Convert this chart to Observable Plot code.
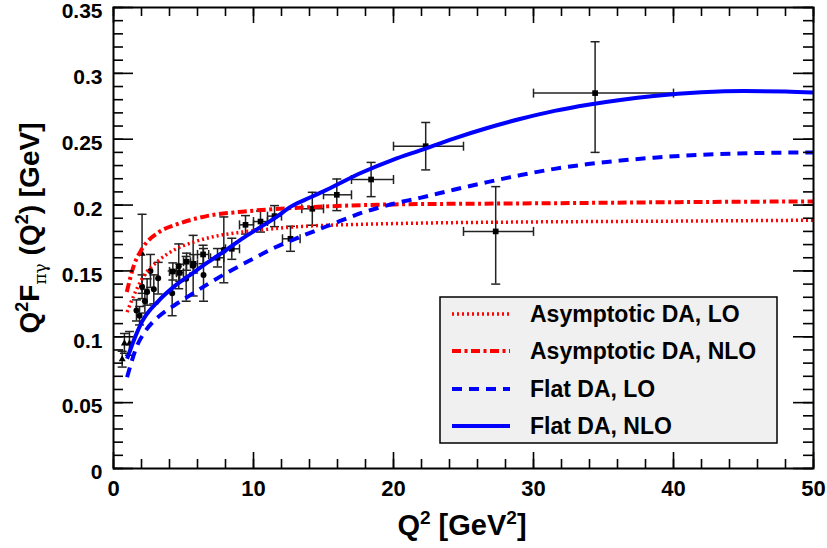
<!DOCTYPE html>
<html><head><meta charset="utf-8">
<script src="https://cdn.jsdelivr.net/npm/d3@7"></script>
<script src="https://cdn.jsdelivr.net/npm/@observablehq/plot@0.6"></script>
<style>body{margin:0;background:#fff;font-family:"Liberation Sans",Arial,sans-serif}</style>
</head><body><div id="chart"></div>
<script>
// ---- theory curves (Q^2 in GeV^2, Q^2 F in GeV) ----
const asyLOx  = [0.97,1.45,2.04,3.24,4.43,5.61,6.81,9.19,11.57,13.47,17,21.9,30,39.8,50];
const asyLOy  = [0.1187,0.1313,0.144,0.158,0.1665,0.1715,0.1752,0.1795,0.1822,0.1838,0.1852,0.1863,0.1872,0.1878,0.1885];
const asyNLOx = [0.95,1.45,2.04,3.24,4.43,5.61,6.81,9.19,11.57,13.24,20,30,40,50];
const asyNLOy = [0.134,0.1540,0.1668,0.1794,0.185,0.189,0.192,0.195,0.197,0.198,0.2005,0.2013,0.2022,0.2028];
const flatLOx = [0.97,1.69,2.29,3.24,4.43,5.61,6.81,8.0,9.66,11.57,13.47,15.5,17.7,20,21.9,24.3,26.7,29.1,31.5,33.9,36.2,38.6,42,46,50];
const flatLOy = [0.0693,0.0934,0.1045,0.1155,0.1245,0.1325,0.1405,0.148,0.1575,0.168,0.1765,0.185,0.194,0.201,0.2055,0.2116,0.2174,0.2228,0.2275,0.2311,0.2338,0.236,0.2382,0.2395,0.24];
const flatNLOx = [0.97,1.57,2.04,3.24,4.43,5.61,6.81,8.0,9.19,10.38,11.57,12.7,14.2,15.5,17.7,20,21.9,24.3,26.7,29.1,31.5,33.9,36.2,38.6,42,45,48,50];
const flatNLOy = [0.0833,0.1005,0.1115,0.1275,0.139,0.148,0.157,0.1655,0.1745,0.1825,0.1905,0.199,0.2065,0.213,0.2245,0.2345,0.2415,0.2505,0.2585,0.2655,0.2715,0.2762,0.2798,0.2828,0.2856,0.2866,0.2863,0.2855];

// ---- data: CELLO (triangles) ----
const celloX   = [0.62,0.78,1.14,2.04];
const celloY   = [0.083,0.095,0.095,0.163];
const celloErr = [0.006,0.0075,0.009,0.03];
// ---- data: CLEO (circles) ----
const cleoX   = [1.64,1.86,2.04,2.24,2.40,2.64,2.88,3.19,4.19,4.66,5.19,5.69,6.43,7.88];
const cleoY   = [0.120,0.116,0.138,0.127,0.134,0.150,0.136,0.1445,0.133,0.1535,0.144,0.154,0.147,0.166];
const cleoErr = [0.008,0.007,0.009,0.009,0.010,0.0125,0.011,0.012,0.017,0.017,0.017,0.023,0.02,0.025];
// ---- data: BaBar (squares) ----
const babarX    = [4.24,4.73,5.22,5.72,6.4,7.43,8.45,9.43,10.5,11.5,12.64,14.2,15.95,18.4,22.3,27.3,34.4];
const babarY    = [0.1496,0.1486,0.157,0.1554,0.1625,0.160,0.1668,0.185,0.1875,0.1916,0.1744,0.1972,0.2078,0.2194,0.2447,0.180,0.285];
const babarErrLo= [0.0065,0.0065,0.0065,0.007,0.007,0.007,0.008,0.007,0.008,0.008,0.0095,0.0125,0.012,0.013,0.018,0.040,0.045];
const babarErrHi= [0.0065,0.0065,0.0065,0.007,0.007,0.007,0.008,0.007,0.008,0.008,0.0095,0.0125,0.012,0.013,0.018,0.034,0.039];
const babarXlo  = [4.0,4.5,5.0,5.5,6.0,6.93,8.0,9.0,10.0,11.0,12.07,13.45,15.0,17.0,20.0,25.0,30.0];
const babarXhi  = [4.5,5.0,5.5,6.0,6.8,7.88,9.0,10.0,11.0,12.0,13.33,15.0,17.0,20.0,25.0,30.0,40.0];

// ---- axes ----
const xTicks = [0,10,20,30,40,50];
const xTickLabels = ["0","10","20","30","40","50"];
const xMinor = d3.range(0, 50.01, 2);
const yTicks = [0,0.05,0.1,0.15,0.2,0.25,0.3,0.35];
const yTickLabels = ["0","0.05","0.1","0.15","0.2","0.25","0.3","0.35"];
const yMinor = d3.range(0, 0.3501, 0.01);

const legendLabels = ["Asymptotic DA, LO","Asymptotic DA, NLO","Flat DA, LO","Flat DA, NLO"];
const series = [
  {xs: asyLOx,  ys: asyLOy,  stroke: "#ff0000", dash: "2 3",        w: 3.5},
  {xs: asyNLOx, ys: asyNLOy, stroke: "#ff0000", dash: "9 3.5 3 3.5", w: 4},
  {xs: flatLOx, ys: flatLOy, stroke: "#0000ff", dash: "10 7",       w: 4},
  {xs: flatNLOx,ys: flatNLOy,stroke: "#0000ff", dash: null,         w: 4}
];

const cello = celloX.map((x,i)=>({x, y: celloY[i], lo: celloY[i]-celloErr[i], hi: celloY[i]+celloErr[i]}));
const cleo  = cleoX.map((x,i)=>({x, y: cleoY[i], lo: cleoY[i]-cleoErr[i], hi: cleoY[i]+cleoErr[i]}));
const babar = babarX.map((x,i)=>({x, y: babarY[i], lo: babarY[i]-babarErrLo[i], hi: babarY[i]+babarErrHi[i], xlo: babarXlo[i], xhi: babarXhi[i]}));
const allPts = [...cello, ...cleo, ...babar];

const hCap = {draw(ctx, size){ const r = Math.sqrt(size/Math.PI); ctx.moveTo(-r,0); ctx.lineTo(r,0);} };
const vCap = {draw(ctx, size){ const r = Math.sqrt(size/Math.PI); ctx.moveTo(0,-r); ctx.lineTo(0,r);} };
const errCol = "#222";
const FONT = "'Liberation Sans', Arial, sans-serif";

const W = 827, H = 548, ML = 113, MR = 14, MT = 7, MB = 80;
const PW = W - ML - MR, PH = H - MT - MB;
const tickOpt = {stroke: "black", strokeWidth: 1.6};

const marks = [
  // error bars
  Plot.ruleX(allPts, {x: "x", y1: "lo", y2: "hi", stroke: errCol, strokeWidth: 1.5}),
  Plot.dot(allPts, {x: "x", y: "lo", symbol: hCap, r: 4.5, stroke: errCol, strokeWidth: 1.5}),
  Plot.dot(allPts, {x: "x", y: "hi", symbol: hCap, r: 4.5, stroke: errCol, strokeWidth: 1.5}),
  Plot.ruleY(babar, {y: "y", x1: "xlo", x2: "xhi", stroke: errCol, strokeWidth: 1.5}),
  Plot.dot(babar, {x: "xlo", y: "y", symbol: vCap, r: 4.5, stroke: errCol, strokeWidth: 1.5}),
  Plot.dot(babar, {x: "xhi", y: "y", symbol: vCap, r: 4.5, stroke: errCol, strokeWidth: 1.5}),
  // markers
  Plot.dot(cello, {x: "x", y: "y", symbol: "triangle", r: 2.6, fill: "black"}),
  Plot.dot(cleo,  {x: "x", y: "y", symbol: "circle", r: 3, fill: "black"}),
  Plot.dot(babar, {x: "x", y: "y", symbol: "square", r: 3.2, fill: "black"}),
  // curves
  ...series.map(s => Plot.line(s.xs.map((x,i)=>({x, y: s.ys[i]})), {
      x: "x", y: "y", stroke: s.stroke, strokeWidth: s.w,
      strokeDasharray: s.dash, strokeLinecap: "butt", curve: "monotone-x"})),
  // tick labels
  Plot.axisX(xTicks, {anchor: "bottom", tickSize: 0, tickPadding: 12, label: null,
      tickFormat: d => xTickLabels[xTicks.indexOf(d)], fontSize: 22, fontWeight: "bold", fill: "black"}),
  Plot.axisY(yTicks, {anchor: "left", tickSize: 0, tickPadding: 11, label: null, dy: 4,
      tickFormat: d => yTickLabels[yTicks.indexOf(d)], fontSize: 21, fontWeight: "bold", fill: "black"}),
  // inward ticks on all sides
  Plot.tickX(xTicks, {x: d => d, insetTop: PH - 16, ...tickOpt}),
  Plot.tickX(xMinor, {x: d => d, insetTop: PH - 9, ...tickOpt}),
  Plot.tickX(xTicks, {x: d => d, insetBottom: PH - 16, ...tickOpt}),
  Plot.tickX(xMinor, {x: d => d, insetBottom: PH - 9, ...tickOpt}),
  Plot.tickY(yTicks, {y: d => d, insetRight: PW - 20, ...tickOpt}),
  Plot.tickY(yMinor, {y: d => d, insetRight: PW - 10, ...tickOpt}),
  Plot.tickY(yTicks, {y: d => d, insetLeft: PW - 20, ...tickOpt}),
  Plot.tickY(yMinor, {y: d => d, insetLeft: PW - 10, ...tickOpt}),
  Plot.frame({stroke: "black", strokeWidth: 2})
];

const plot = Plot.plot({
  width: W, height: H,
  marginLeft: ML, marginRight: MR, marginTop: MT, marginBottom: MB,
  x: {domain: [0, 50]},
  y: {domain: [0, 0.35]},
  style: {fontFamily: FONT, background: "white", color: "black"},
  marks
});
document.getElementById("chart").appendChild(plot);

const svg = d3.select(plot);
// Y title
const yt = svg.append("text")
  .attr("transform", "translate(39,228) rotate(-90)")
  .attr("text-anchor", "middle").attr("font-family", FONT)
  .attr("font-weight", "bold").attr("font-size", 28).attr("fill", "black");
yt.append("tspan").text("Q");
yt.append("tspan").attr("font-size", 18).attr("dy", -11).text("2");
yt.append("tspan").attr("dy", 11).text("F");
yt.append("tspan").attr("font-size", 17).attr("font-weight", "normal").attr("font-family", "'DejaVu Serif', serif").attr("dy", 7).text("πγ");
yt.append("tspan").attr("dy", -7).text(" (Q");
yt.append("tspan").attr("font-size", 18).attr("dy", -11).text("2");
yt.append("tspan").attr("dy", 11).text(") [GeV]");

// X title
const xt = svg.append("text")
  .attr("x", 462).attr("y", 535)
  .attr("text-anchor", "middle").attr("font-family", FONT)
  .attr("font-weight", "bold").attr("font-size", 29).attr("fill", "black");
xt.append("tspan").text("Q");
xt.append("tspan").attr("font-size", 19).attr("dy", -11).text("2");
xt.append("tspan").attr("dy", 11).text(" [GeV");
xt.append("tspan").attr("font-size", 19).attr("dy", -11).text("2");
xt.append("tspan").attr("dy", 11).text("]");

// Legend
const lg = svg.append("g").attr("text-anchor", "start");
lg.append("rect").attr("x", 440).attr("y", 297).attr("width", 337).attr("height", 146)
  .attr("fill", "#f0f0f0").attr("stroke", "black").attr("stroke-width", 1.5);
const rowY = [314, 351, 389, 426];
series.forEach((s, i) => {
  lg.append("line").attr("x1", 452).attr("x2", 510).attr("y1", rowY[i]).attr("y2", rowY[i])
    .attr("stroke", s.stroke).attr("stroke-width", s.w)
    .attr("stroke-dasharray", s.dash || null);
  lg.append("text").attr("x", 530).attr("y", rowY[i]).attr("dy", "0.36em")
    .attr("text-anchor", "start")
    .attr("font-family", FONT).attr("font-weight", "bold").attr("font-size", 23)
    .attr("fill", "black").text(legendLabels[i]);
});
</script>
</body></html>
